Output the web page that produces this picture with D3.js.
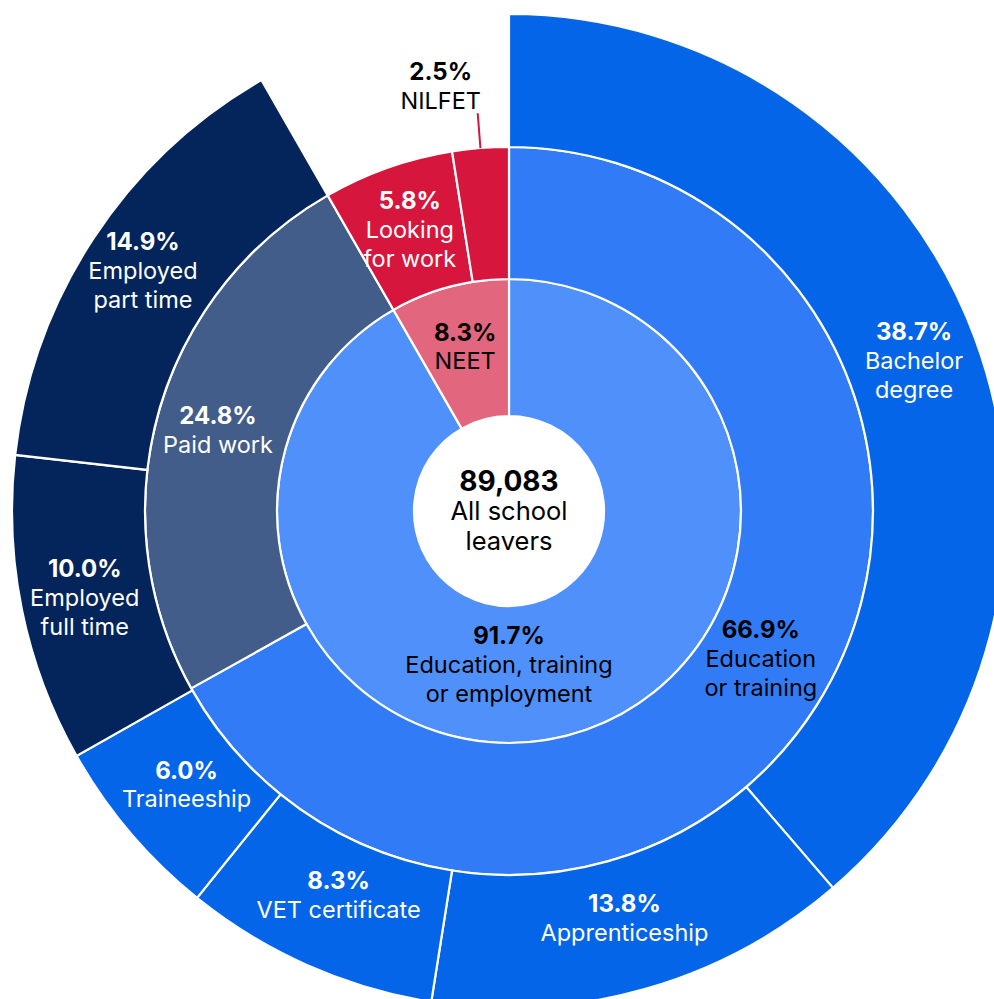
<!DOCTYPE html>
<html>
<head>
<meta charset="utf-8">
<script src="https://cdn.jsdelivr.net/npm/d3@7"></script>
<style>
  html, body { margin: 0; padding: 0; background: #fff; }
  svg { display: block; font-family: Inter, "Noto Sans", sans-serif; }
</style>
</head>
<body>
<script>
// Inner ring
var innerLabels = ["Education, training\nor employment", "NEET"];
var innerValues = [91.7, 8.3];

// Middle ring
var middleLabels = ["Education\nor training", "Paid work", "Looking\nfor work", "NILFET"];
var middleValues = [66.9, 24.8, 5.8, 2.5];

// Outer ring (stops where the NEET part starts)
var outerLabels = ["Bachelor\ndegree", "Apprenticeship", "VET certificate", "Traineeship",
                   "Employed\nfull time", "Employed\npart time"];
var outerValues = [38.7, 13.8, 8.3, 6.0, 10.0, 14.9];

var totalLeavers = "89,083";
var totalLabel = "All school\nleavers";

var width = 994, height = 999;
var cx = 509, cy = 511;

var svg = d3.select("body").append("svg")
    .attr("width", width)
    .attr("height", height);

var g = svg.append("g").attr("transform", "translate(" + cx + "," + cy + ")");

// percent -> angle
var angle = d3.scaleLinear().domain([0, 100]).range([0, 2 * Math.PI]);

function toSegments(labels, values) {
    var start = 0;
    return values.map(function (v, i) {
        var s = { label: labels[i], value: v, start: start, end: start + v, index: i };
        start += v;
        return s;
    });
}

var rings = [
    { name: "inner", r0: 95, r1: 232, segs: toSegments(innerLabels, innerValues),
      fills: ["#4f90fb", "#e2667d"], textFill: ["#000", "#000"], labelR: [154, 170] },
    { name: "middle", r0: 232, r1: 364, segs: toSegments(middleLabels, middleValues),
      fills: ["#317cf6", "#425d8a", "#d7163d", "#d7163d"], textFill: ["#000", "#fff", "#fff", "#000"], labelR: [292, 302, 298, null] },
    { name: "outer", r0: 364, r1: 497, segs: toSegments(outerLabels, outerValues),
      fills: ["#0565e8", "#0565e8", "#0565e8", "#0565e8", "#03255c", "#03255c"],
      textFill: ["#fff", "#fff", "#fff", "#fff", "#fff", "#fff"], labelR: [432, 423, 420, 423, 433, 438] }
];

var arc = d3.arc();

rings.forEach(function (ring) {
    g.append("g").attr("class", ring.name)
        .selectAll("path")
        .data(ring.segs)
        .enter().append("path")
        .attr("d", function (d) {
            return arc({ innerRadius: ring.r0, outerRadius: ring.r1,
                         startAngle: angle(d.start), endAngle: angle(d.end) });
        })
        .attr("fill", function (d) { return ring.fills[d.index]; })
        .attr("stroke", "#fff")
        .attr("stroke-width", 2.2);
});

// centre disc
g.append("circle").attr("r", 95).attr("fill", "#fff");

function drawLabel(x, y, pct, text, fill, size, boldSize, lineH) {
    var lines = [pct].concat(text.split("\n"));
    var t = g.append("text")
        .attr("text-anchor", "middle")
        .attr("fill", fill);
    var y0 = y - (lines.length - 1) * lineH / 2;
    lines.forEach(function (l, i) {
        t.append("tspan")
            .attr("x", x)
            .attr("y", y0 + i * lineH)
            .attr("dy", "0.35em")
            .style("font-size", (i === 0 ? boldSize : size) + "px")
            .style("font-weight", i === 0 ? 700 : 400)
            .text(l);
    });
}

function polar(a, r) {
    return [Math.sin(a) * r, -Math.cos(a) * r];
}

rings.forEach(function (ring) {
    ring.segs.forEach(function (d) {
        var r = ring.labelR[d.index];
        if (r == null) return;
        var a = angle((d.start + d.end) / 2);
        // the big inner slice gets its label straight below the centre
        if (ring.name === "inner" && d.index === 0) a = Math.PI;
        var p = polar(a, r);
        drawLabel(p[0], p[1], d3.format(".1f")(d.value) + "%", d.label,
                  ring.textFill[d.index], 23.5, 24, 29);
    });
});

// NILFET: label outside with a leader line
var nil = rings[1].segs[3];
var na = angle((nil.start + nil.end) / 2);
var pA = polar(na, 364), pB = polar(na, 399);
g.append("line")
    .attr("x1", pA[0]).attr("y1", pA[1])
    .attr("x2", pB[0]).attr("y2", pB[1])
    .attr("stroke", "#d7163d")
    .attr("stroke-width", 2);
drawLabel(pB[0] - 37, pB[1] - 27, d3.format(".1f")(nil.value) + "%", nil.label, "#000", 23.5, 24, 29);

// centre total
drawLabel(0, 0, totalLeavers, totalLabel, "#000", 25.5, 28, 30);
</script>
</body>
</html>
